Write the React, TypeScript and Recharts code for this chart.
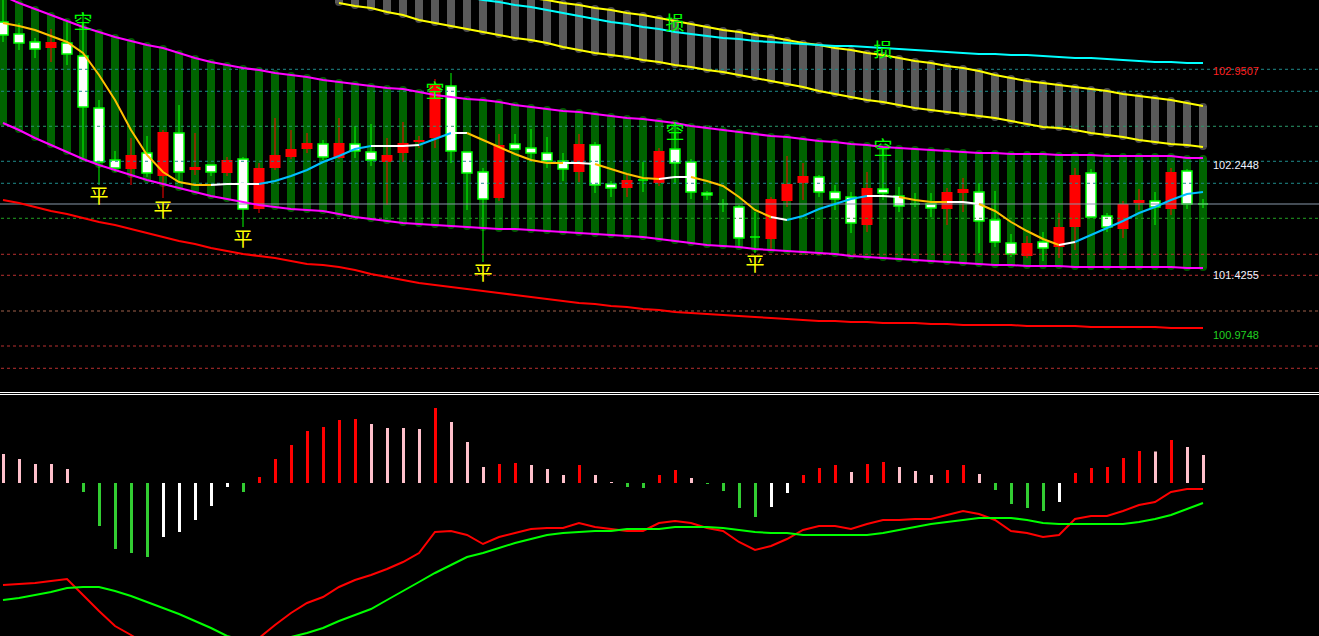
import React from 'react';
import { ComposedChart, Bar, Line, XAxis, YAxis, ReferenceLine, Cell } from 'recharts';

// ---------- price panel data (76 bars) ----------
const openP = [103.2225,103.1625,103.1175,103.17,103.08,102.6825,102.27,102.225,102.3225,102.1875,102.495,102.195,102.2325,102.195,102.285,101.9175,102.225,102.3225,102.3675,102.4125,102.3075,102.4125,102.3525,102.285,102.3225,102.4125,102.435,102.855,102.3525,102.1875,101.9925,102.3975,102.3675,102.3375,102.2775,102.2175,102.405,102.0975,102.075,102.135,102.135,102.3525,102.2625,102.045,102.0225,101.955,101.7,101.7075,101.9925,102.105,102.165,102.045,101.9925,101.8125,102.075,102.0375,101.94,101.955,101.925,102.045,102.0675,101.8275,101.67,101.58,101.6625,101.625,101.7825,102.1725,101.8575,101.7825,101.955,101.985,101.9325,102.195,101.955,101.955];
const highP = [103.5,103.3125,103.2,103.2675,103.32,103.395,102.735,102.3525,102.45,102.465,102.51,102.6975,102.4875,102.2475,102.3075,102.3075,102.2625,102.6,102.51,102.4875,102.435,102.6,102.54,102.555,102.45,102.57,102.465,102.8925,102.9375,102.345,102.225,102.48,102.48,102.5175,102.4575,102.3375,102.48,102.42,102.1275,102.1725,102.27,102.375,102.57,102.2925,102.0525,101.9925,101.9475,101.895,102.0075,102.315,102.2625,102.1725,102.0975,102.045,102.195,102.3225,102.0825,102.0375,102.0375,102.075,102.15,102.1125,102.0525,101.73,101.715,101.745,101.8875,102.225,102.2175,101.8875,101.9775,102.0675,102.045,102.225,102.2175,101.9925];
const lowP = [103.17,103.11,103.05,103.02,102.9975,102.285,102.0975,102.195,102.0975,102.1575,102.0,102.12,102.1725,102.165,102.165,101.7825,101.8875,102.21,102.2925,102.3375,102.285,102.2925,102.3,102.24,101.9475,102.27,102.375,102.375,102.2625,101.91,101.52,101.9775,102.36,102.2775,102.225,102.1275,102.12,102.0375,102.0075,102.0075,102.045,102.09,102.1125,101.9925,101.985,101.895,101.625,101.5875,101.61,101.9325,101.985,102.0075,101.91,101.7375,101.745,101.985,101.895,101.9325,101.8575,101.7975,101.895,101.5875,101.6325,101.5575,101.55,101.5275,101.55,101.61,101.85,101.745,101.7,101.91,101.7975,101.8725,101.9175,101.925];
const closeP = [103.32,103.23,103.17,103.125,103.1625,103.065,102.675,102.285,102.2175,102.3375,102.165,102.4875,102.21,102.2475,102.1875,102.2925,101.9175,102.225,102.3075,102.3675,102.405,102.3,102.405,102.345,102.27,102.3375,102.42,102.45,102.84,102.345,102.195,102.0,102.405,102.375,102.3375,102.2775,102.195,102.3975,102.105,102.075,102.135,102.1125,102.3675,102.27,102.0375,101.955,101.9325,101.7075,101.6925,101.9775,102.1125,102.1575,102.045,102.0075,101.7975,102.0675,102.015,101.955,101.955,101.9175,102.0375,102.045,101.835,101.6625,101.565,101.67,101.6325,101.7825,102.1875,101.865,101.7675,101.9625,101.9775,101.9175,102.2025,101.955];

const bandUpper = [103.515,103.4625,103.4175,103.3725,103.3275,103.2825,103.245,103.2075,103.1775,103.1475,103.125,103.0875,103.05,103.02,102.9975,102.975,102.96,102.9375,102.9225,102.9075,102.885,102.87,102.855,102.84,102.825,102.8175,102.795,102.7725,102.7575,102.7425,102.735,102.72,102.6975,102.6825,102.6675,102.6525,102.645,102.63,102.615,102.6,102.5925,102.5775,102.5625,102.54,102.525,102.51,102.495,102.48,102.465,102.4575,102.4425,102.4275,102.42,102.405,102.3975,102.3825,102.375,102.3675,102.36,102.3525,102.345,102.3375,102.3375,102.33,102.33,102.33,102.3225,102.3225,102.3225,102.315,102.315,102.315,102.315,102.315,102.3,102.3];
const bandLower = [102.5625,102.51,102.45,102.3975,102.345,102.2925,102.2475,102.21,102.1725,102.135,102.105,102.075,102.045,102.015,101.9925,101.97,101.9475,101.9325,101.9175,101.91,101.9025,101.88,101.8575,101.8425,101.8275,101.8125,101.805,101.7975,101.79,101.7825,101.775,101.7675,101.7675,101.76,101.7525,101.745,101.7375,101.73,101.7225,101.715,101.7075,101.6925,101.6775,101.6625,101.6475,101.64,101.6325,101.6175,101.61,101.6025,101.595,101.5875,101.58,101.565,101.5575,101.55,101.5425,101.535,101.5275,101.52,101.5125,101.505,101.4975,101.4975,101.49,101.49,101.49,101.4825,101.4825,101.4825,101.4825,101.4825,101.4825,101.4825,101.475,101.475];

// stop-loss channel (grey), visible from bar 21 on
const channelStart = 21;
const channelLower = [103.4625,103.44,103.425,103.395,103.3725,103.335,103.3125,103.29,103.2675,103.245,103.2225,103.2,103.185,103.1625,103.1325,103.11,103.0875,103.0725,103.0575,103.035,103.02,102.9975,102.9825,102.96,102.945,102.9225,102.9,102.8775,102.855,102.8325,102.8025,102.78,102.7575,102.735,102.72,102.6975,102.675,102.66,102.645,102.63,102.615,102.6,102.5775,102.555,102.5325,102.525,102.51,102.4875,102.4725,102.4575,102.435,102.42,102.405,102.3975,102.3825];
const channelUpper = [103.74,103.7175,103.695,103.68,103.6575,103.6425,103.62,103.5975,103.5825,103.56,103.5375,103.5225,103.5,103.485,103.4625,103.4475,103.425,103.41,103.3875,103.3725,103.35,103.3275,103.305,103.2825,103.26,103.245,103.2225,103.2075,103.185,103.1625,103.1475,103.125,103.11,103.0875,103.0725,103.05,103.0275,103.0125,102.99,102.975,102.9525,102.9225,102.9,102.8775,102.8625,102.8475,102.8325,102.8175,102.8025,102.78,102.765,102.75,102.735,102.7125,102.69];

const cyanStart = 28;
const cyanLine = [103.5375,103.5075,103.485,103.47,103.4475,103.4325,103.41,103.3875,103.365,103.3425,103.32,103.305,103.2825,103.2675,103.245,103.23,103.215,103.2,103.1925,103.1775,103.17,103.1625,103.155,103.1475,103.14,103.14,103.1325,103.125,103.1175,103.11,103.1025,103.095,103.0875,103.08,103.08,103.0725,103.0725,103.065,103.0575,103.05,103.05,103.0425,103.035,103.0275,103.02,103.02,103.0125,103.0125];

const longMA = [101.985,101.9625,101.9325,101.9025,101.88,101.85,101.82,101.7975,101.7675,101.7375,101.7075,101.6775,101.655,101.625,101.6025,101.58,101.565,101.55,101.5275,101.505,101.4975,101.4825,101.46,101.43,101.4075,101.385,101.3625,101.3475,101.3325,101.3175,101.3025,101.2875,101.2725,101.2575,101.2425,101.2275,101.2125,101.205,101.19,101.1825,101.1675,101.16,101.145,101.1375,101.13,101.1225,101.115,101.1075,101.1,101.0925,101.085,101.0775,101.0775,101.07,101.07,101.0625,101.0625,101.0625,101.055,101.055,101.0475,101.0475,101.0475,101.0475,101.04,101.04,101.04,101.04,101.0325,101.0325,101.0325,101.0325,101.0325,101.025,101.025,101.025];

const trendMA = [103.3125,103.29,103.26,103.215,103.17,103.0875,102.9225,102.735,102.51,102.3225,102.195,102.12,102.0975,102.0975,102.105,102.105,102.105,102.1275,102.165,102.21,102.27,102.315,102.3675,102.39,102.39,102.39,102.3975,102.4425,102.4875,102.4875,102.435,102.3825,102.33,102.285,102.2625,102.2625,102.2625,102.255,102.2175,102.18,102.15,102.1425,102.1575,102.1575,102.1275,102.09,102.0075,101.91,101.8575,101.835,101.865,101.9175,101.955,101.9925,102.015,102.015,102.0075,101.985,101.97,101.97,101.97,101.955,101.9025,101.82,101.7525,101.6925,101.6475,101.67,101.7225,101.775,101.8275,101.8875,101.9325,101.985,102.03,102.045];
// per-segment state of the trend MA: y = falling, w = flat, c = rising
const trendState = 'yyyyyyyyyyyyy' + 'www' + 'ccccccc' + 'www' + 'cc' + 'w' + 'yyyyyy' + 'ww' + 'yyyy' + 'ww' + 'yyyyy' + 'w' + 'ccccc' + 'ww' + 'yyy' + 'ww' + 'yyyyy' + 'w' + 'cccccccc';

const kongBars = [5, 27, 42, 55];
const kongPrice = [103.335, 102.8175, 102.51, 102.39];
const pingBars = [6, 10, 15, 30, 47];
const pingPrice = [102.03, 101.925, 101.7075, 101.4525, 101.52];
const sunBars = [42, 55];
const sunPrice = [103.3275, 103.125];

const gridLevels = [102.9653, 102.8003, 102.5378, 102.2753, 102.1103, 101.8478, 101.5778, 101.4203, 101.1525, 100.89, 100.7228];
const gridColors = ['#1f8c8c', '#1f8c8c', '#2a9a6a', '#1f8c8c', '#1f8c8c', '#23a023', '#b83030', '#b83030', '#a0604a', '#b83030', '#b83030'];
const bidPrice = 101.955;
const priceLabels = [102.9507, 102.2448, 101.4255, 100.9748];
const priceLabelColors = ['#ff2020', '#eef4ff', '#eef4ff', '#20d020'];

// ---------- MACD panel data ----------
const macdHist = [29,24,19,19,14,-9,-43,-66,-70,-74,-54,-49,-37,-23,-4,-9,6,24,38,52,56,63,64,59,55,55,54,75,61,41,16,19,20,18,14,8,18,8,1,-4,-5,8,13,5,-1,-8,-25,-34,-24,-10,8,15,18,11,19,21,16,12,8,13,18,9,-7,-21,-25,-28,-19,10,15,16,25,32,31.5,43,36,28];
const macdMain = [-102,-101,-100,-98,-96,-112,-128,-143,-152,-162,-172,-179,-185,-187,-182,-169,-155,-142,-130,-120,-114,-104,-97,-92,-86,-79,-70,-49,-48,-52,-61,-54,-50,-46,-45,-45,-40,-44,-46,-48,-48,-40,-38,-40,-45,-48,-59,-67,-63,-56,-47,-43,-43,-46,-41,-37,-37,-36,-36,-32,-28,-31,-37,-48,-50,-54,-52,-36,-33,-33,-28,-22,-19,-9,-6,-6];
const macdSignal = [-117,-115,-112,-109,-105,-104,-104,-108,-113,-119,-125,-131,-138,-145,-153,-157,-159,-158,-154,-150,-145,-138,-132,-126,-117,-108,-99,-90,-82,-74,-70,-65,-60,-56,-52,-50,-49,-48,-48,-46,-46,-46,-44,-44,-44,-45,-47,-49,-50,-50,-52,-52,-52,-52,-52,-50,-47,-44,-41,-39,-37,-35,-35,-35,-37,-40,-41,-41,-41,-41,-41,-39,-36,-32,-26,-20];

const N = openP.length;
const PAD = 7;
const TOTAL = N + PAD;

const trendColors: Record<string, string> = { y: '#ffc000', w: '#ffffff', c: '#00bfff' };

type Row = Record<string, any>;
const rows: Row[] = Array.from({ length: TOTAL }, (_, i) => {
  const r: Row = { i };
  if (i < N) {
    r.open = openP[i];
    r.high = highP[i];
    r.low = lowP[i];
    r.close = closeP[i];
    r.bandHi = bandUpper[i];
    r.bandLo = bandLower[i];
    r.longMA = longMA[i];
    if (i >= channelStart) {
      r.chLo = channelLower[i - channelStart];
      r.chHi = channelUpper[i - channelStart];
    }
    if (i >= cyanStart) r.cyan = cyanLine[i - cyanStart];
    r.hist = macdHist[i];
    r.macd = macdMain[i];
    r.signal = macdSignal[i];
  }
  return r;
});
kongBars.forEach((b, j) => (rows[b].kong = kongPrice[j]));
pingBars.forEach((b, j) => (rows[b].ping = pingPrice[j]));
sunBars.forEach((b, j) => (rows[b].sun = sunPrice[j]));

// split the trend MA into runs of one colour
const maRuns: { key: string; color: string }[] = [];
{
  let s = 0;
  for (let j = 1; j <= trendState.length; j++) {
    if (j === trendState.length || trendState[j] !== trendState[s]) {
      const key = 'ma' + maRuns.length;
      for (let k = s; k <= j; k++) rows[k][key] = trendMA[k];
      maRuns.push({ key, color: trendColors[trendState[s]] });
      s = j;
    }
  }
}

const histColor = (i: number) => {
  const v = macdHist[i];
  const p = i > 0 ? macdHist[i - 1] : v;
  if (v === undefined) return 'transparent';
  if (v >= 0) return v > p ? '#ff0000' : '#ffc0cb';
  return v < p ? '#32cd32' : '#ffffff';
};

const BandShape = (props: any) => {
  const { x, y, width, height, payload } = props;
  if (payload == null || payload.bandHi == null || !isFinite(y)) return <g />;
  return (
    <g>
      <rect x={x} y={y - 3} width={width} height={height + 6} rx={4} fill="#005a00" />
      <rect x={x} y={y} width={width} height={height} fill="#006400" />
    </g>
  );
};

const ChannelShape = (props: any) => {
  const { x, y, width, height, payload } = props;
  if (payload == null || payload.chHi == null || !isFinite(y)) return <g />;
  return (
    <g>
      <rect x={x} y={y - 3} width={width} height={height + 6} rx={4} fill="#4a4a4a" />
      <rect x={x} y={y} width={width} height={height} fill="#5a5a5a" />
    </g>
  );
};

const CandleShape = (props: any) => {
  const { x, y, width, height, payload } = props;
  if (payload == null || payload.open == null || !isFinite(y)) return <g />;
  const { open, high, low, close } = payload;
  const py = (p: number) => y + ((high - p) / (high - low)) * height;
  const cx = x + width / 2;
  const bull = close >= open;
  const top = py(Math.max(open, close));
  const bot = py(Math.min(open, close));
  const wickColor = bull ? '#00ff00' : '#ff0000';
  return (
    <g>
      <line x1={cx} x2={cx} y1={y} y2={y + height} stroke={wickColor} strokeWidth={1} />
      {open === close ? (
        <line x1={x} x2={x + width} y1={top} y2={top} stroke="#00ff00" strokeWidth={1.5} />
      ) : bull ? (
        <rect x={x} y={top} width={width} height={Math.max(1, bot - top)} fill="#ffffff" stroke="#00ff00" strokeWidth={1.5} />
      ) : (
        <rect x={x - 0.5} y={top} width={width + 1} height={Math.max(1, bot - top)} fill="#ff0000" />
      )}
    </g>
  );
};

const signalDot = (text: string, color: string) => (p: any) => {
  if (p.value == null || p.cy == null) return <g key={p.index} />;
  return (
    <text
      key={p.index}
      x={p.cx}
      y={p.cy}
      textAnchor="middle"
      dominantBaseline="central"
      fontSize={19}
      fontFamily="'Noto Sans CJK SC', sans-serif"
      fill={color}
    >
      {text}
    </text>
  );
};

const PriceLabel = (color: string, value: number) => (props: any) => {
  const vb = props.viewBox || {};
  return (
    <text x={1218} y={vb.y} dominantBaseline="central" fontSize={11} fontFamily="'Liberation Sans', Arial, sans-serif" fill={color}>
      {value.toFixed(4)}
    </text>
  );
};

export default function App() {
  return (
    <div style={{ position: 'fixed', left: 0, top: 0, width: 1319, height: 636, background: '#000', overflow: 'hidden', pointerEvents: 'none' }}>
      <div style={{ position: 'absolute', left: -5, top: 0 }}>
        <ComposedChart width={1328} height={390} data={rows} margin={{ top: 0, right: 0, bottom: 0, left: 0 }}>
          <XAxis xAxisId="b" dataKey="i" type="category" hide />
          <XAxis xAxisId="g" dataKey="i" type="category" hide />
          <XAxis xAxisId="c" dataKey="i" type="category" hide />
          <YAxis type="number" domain={[100.56, 103.485]} allowDataOverflow hide />
          <Bar xAxisId="b" dataKey={(d: Row) => (d.bandHi == null ? null : [d.bandLo, d.bandHi])} barSize={8} shape={BandShape} isAnimationActive={false} />
          <Bar xAxisId="g" dataKey={(d: Row) => (d.chHi == null ? null : [d.chLo, d.chHi])} barSize={8} shape={ChannelShape} isAnimationActive={false} />
          {gridLevels.map((lv, j) => (
            <ReferenceLine key={'g' + j} xAxisId="c" y={lv} stroke={gridColors[j]} strokeDasharray="3 3" strokeWidth={1} />
          ))}
          <ReferenceLine xAxisId="c" y={bidPrice} stroke="#8898aa" strokeWidth={1} />
          {priceLabels.map((lv, j) => (
            <ReferenceLine key={'l' + j} xAxisId="c" y={lv} stroke="none" label={PriceLabel(priceLabelColors[j], lv)} />
          ))}
          <Line xAxisId="c" dataKey="bandHi" stroke="#ff00ff" strokeWidth={2} dot={false} activeDot={false} isAnimationActive={false} />
          <Line xAxisId="c" dataKey="bandLo" stroke="#ff00ff" strokeWidth={2} dot={false} activeDot={false} isAnimationActive={false} />
          <Line xAxisId="c" dataKey="chHi" stroke="#ffff00" strokeWidth={2} dot={false} activeDot={false} isAnimationActive={false} />
          <Line xAxisId="c" dataKey="chLo" stroke="#ffff00" strokeWidth={2} dot={false} activeDot={false} isAnimationActive={false} />
          <Line xAxisId="c" dataKey="cyan" stroke="#00ffff" strokeWidth={2} dot={false} activeDot={false} isAnimationActive={false} />
          <Line xAxisId="c" dataKey="longMA" stroke="#ff0000" strokeWidth={2} dot={false} activeDot={false} isAnimationActive={false} />
          {maRuns.map((r) => (
            <Line key={r.key} xAxisId="c" dataKey={r.key} stroke={r.color} strokeWidth={2} dot={false} activeDot={false} isAnimationActive={false} />
          ))}
          <Line xAxisId="c" dataKey="kong" stroke="none" dot={signalDot('空', '#00ff00')} activeDot={false} isAnimationActive={false} />
          <Line xAxisId="c" dataKey="ping" stroke="none" dot={signalDot('平', '#ffff00')} activeDot={false} isAnimationActive={false} />
          <Line xAxisId="c" dataKey="sun" stroke="none" dot={signalDot('损', '#00ff00')} activeDot={false} isAnimationActive={false} />
          <Bar xAxisId="c" dataKey={(d: Row) => (d.open == null ? null : [d.low, d.high])} barSize={10} shape={CandleShape} isAnimationActive={false} />
        </ComposedChart>
      </div>
      <div style={{ position: 'absolute', left: 0, top: 392, width: 1319, height: 1, background: '#fff' }} />
      <div style={{ position: 'absolute', left: 0, top: 394, width: 1319, height: 1, background: '#fff' }} />
      <div style={{ position: 'absolute', left: -5, top: 395 }}>
        <ComposedChart width={1328} height={241} data={rows} margin={{ top: 0, right: 0, bottom: 0, left: 0 }}>
          <XAxis dataKey="i" type="category" hide />
          <YAxis type="number" domain={[-153, 88]} allowDataOverflow hide />
          <Bar dataKey="hist" barSize={3} isAnimationActive={false}>
            {rows.map((_, i) => (
              <Cell key={i} fill={histColor(i)} />
            ))}
          </Bar>
          <Line dataKey="macd" stroke="#ff0000" strokeWidth={2} dot={false} activeDot={false} isAnimationActive={false} />
          <Line dataKey="signal" stroke="#00ff00" strokeWidth={2} dot={false} activeDot={false} isAnimationActive={false} />
        </ComposedChart>
      </div>
    </div>
  );
}
